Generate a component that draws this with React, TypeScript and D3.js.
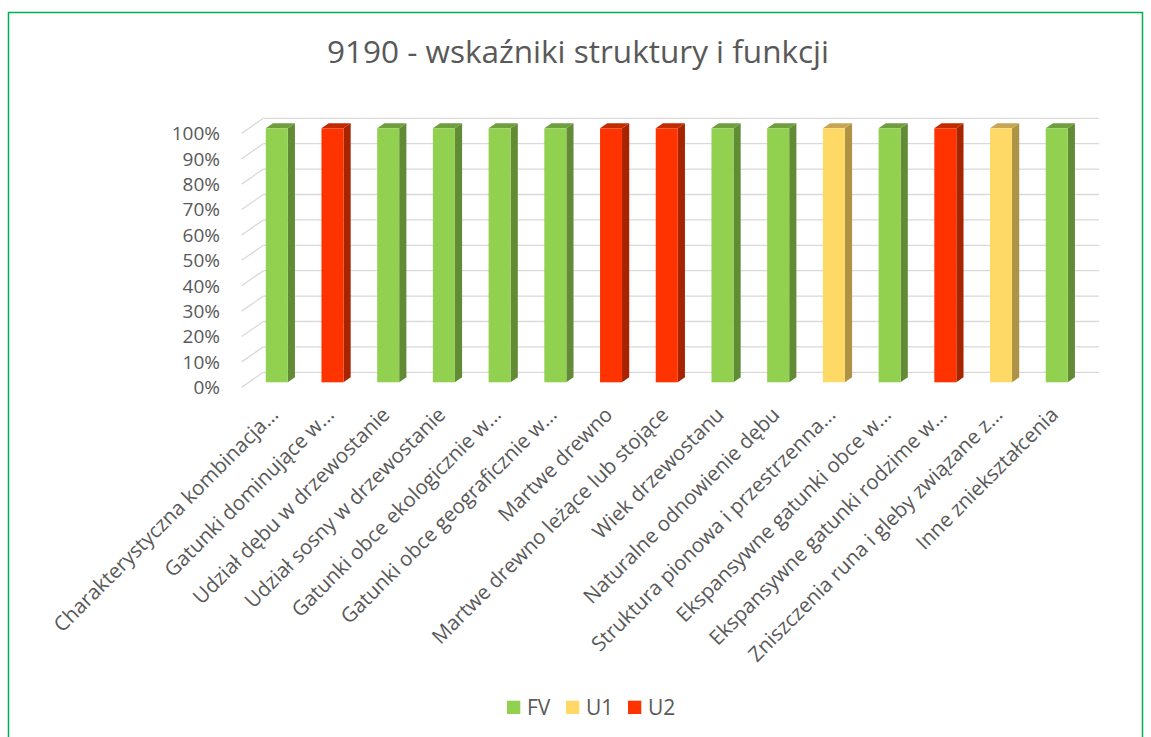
import React from "react";
import * as d3 from "d3";

const categories = [
  "Charakterystyczna kombinacja...",
  "Gatunki dominujące w...",
  "Udział dębu w drzewostanie",
  "Udział sosny w drzewostanie",
  "Gatunki obce ekologicznie w...",
  "Gatunki obce geograficznie w...",
  "Martwe drewno",
  "Martwe drewno leżące lub stojące",
  "Wiek drzewostanu",
  "Naturalne odnowienie dębu",
  "Struktura pionowa i przestrzenna...",
  "Ekspansywne gatunki obce w...",
  "Ekspansywne gatunki rodzime w...",
  "Zniszczenia runa i gleby związane z...",
  "Inne zniekształcenia",
];

const seriesNames = ["FV", "U1", "U2"];
const fvValues = [1, 0, 1, 1, 1, 1, 0, 0, 1, 1, 0, 1, 0, 0, 1];
const u1Values = [0, 0, 0, 0, 0, 0, 0, 0, 0, 0, 1, 0, 0, 1, 0];
const u2Values = [0, 1, 0, 0, 0, 0, 1, 1, 0, 0, 0, 0, 1, 0, 0];
const yTicks = [0, 0.1, 0.2, 0.3, 0.4, 0.5, 0.6, 0.7, 0.8, 0.9, 1];

const colors: Record<string, { front: string; side: string; top: string }> = {
  FV: { front: "#92D050", side: "#628B36", top: "#6E9E3E" },
  U1: { front: "#FFD966", side: "#AE9346", top: "#C6A652" },
  U2: { front: "#FF3300", side: "#A82300", top: "#C22A00" },
};

const W = 1151;
const H = 737;
const FONT = "'Open Sans', 'DejaVu Sans', sans-serif";
const TEXT = "#595959";

export default function App() {
  const rows = categories.map((c, i) => ({
    cat: c,
    FV: fvValues[i],
    U1: u1Values[i],
    U2: u2Values[i],
  }));
  const stacked = d3.stack<any>().keys(seriesNames)(rows);

  const frontLeft = 241.7;
  const frontRight = 1077.4;
  const x = d3
    .scaleBand<string>()
    .domain(categories)
    .range([frontLeft, frontRight])
    .paddingInner(0.605)
    .paddingOuter(0.3025);
  const xc = d3.scaleBand<string>().domain(categories).range([frontLeft, frontRight]);
  const y = d3.scaleLinear().domain([0, 1]).range([387.3, 133.3]);
  const DX = 21.6;
  const DY = -15;
  const bf = 1 / 3;
  const bd = 1 / 3;

  const fmt = d3.format(".0%");

  const legendItems = [
    { key: "FV", w: 59 },
    { key: "U1", w: 62 },
    { key: "U2", w: 50 },
  ];
  let acc = 507;
  const legendPos = legendItems.map((it) => {
    const p = acc;
    acc += it.w;
    return { ...it, x: p };
  });

  return (
    <svg
      width={W}
      height={H}
      style={{ position: "absolute", left: 0, top: 0, background: "#fff" }}
    >
      <rect x={0} y={0} width={W} height={H} fill="#fff" />
      <rect
        x={8.5}
        y={12.5}
        width={1134}
        height={740}
        fill="none"
        stroke="#00B050"
        strokeWidth={1.5}
      />
      <text
        x={578}
        y={63}
        textAnchor="middle"
        fontFamily={FONT}
        fontSize={31.5}
        fill={TEXT}
      >
        9190 - wskaźniki struktury i funkcji
      </text>

      {yTicks.map((t) => (
        <g key={t} stroke="#D9D9D9" strokeWidth={1.3} fill="none">
          <line x1={frontLeft + DX} x2={frontRight + DX} y1={y(t) + DY} y2={y(t) + DY} />
          <line x1={frontLeft} x2={frontLeft + DX} y1={y(t)} y2={y(t) + DY} />
        </g>
      ))}

      {yTicks.map((t) => (
        <text
          key={"l" + t}
          x={220}
          y={y(t)}
          dy="0.36em"
          textAnchor="end"
          fontFamily={FONT}
          fontSize={19}
          fill={TEXT}
        >
          {fmt(t)}
        </text>
      ))}

      {stacked.map((s) => (
        <g key={s.key}>
          {s.map((d, i) => {
            if (d[1] - d[0] <= 0) return null;
            const cat = categories[i];
            const x0 = (x(cat) as number) + DX * bf;
            const x1 = x0 + x.bandwidth();
            const yt = y(d[1]) + DY * bf;
            const yb = y(d[0]) + DY * bf;
            const ddx = DX * bd;
            const ddy = DY * bd;
            const c = colors[s.key];
            return (
              <g key={i}>
                <path
                  d={`M${x1},${yt}L${x1 + ddx},${yt + ddy}L${x1 + ddx},${yb + ddy}L${x1},${yb}Z`}
                  fill={c.side}
                />
                <path
                  d={`M${x0},${yt}L${x0 + ddx},${yt + ddy}L${x1 + ddx},${yt + ddy}L${x1},${yt}Z`}
                  fill={c.top}
                />
                <rect x={x0} y={yt} width={x1 - x0} height={yb - yt} fill={c.front} />
              </g>
            );
          })}
        </g>
      ))}

      {categories.map((c) => {
        const cx = (xc(c) as number) + xc.bandwidth() / 2 + 10;
        const cy = 416;
        return (
          <text
            key={c}
            transform={`translate(${cx},${cy}) rotate(-45)`}
            textAnchor="end"
            fontFamily={FONT}
            fontSize={20.5}
            fill={TEXT}
          >
            {c}
          </text>
        );
      })}

      {legendPos.map((it) => (
        <g key={it.key}>
          <rect x={it.x} y={700.7} width={13.3} height={13.3} fill={colors[it.key].front} />
          <text
            x={it.x + 20}
            y={707.3}
            dy="0.36em"
            fontFamily={FONT}
            fontSize={21}
            fill={TEXT}
          >
            {it.key}
          </text>
        </g>
      ))}
    </svg>
  );
}
